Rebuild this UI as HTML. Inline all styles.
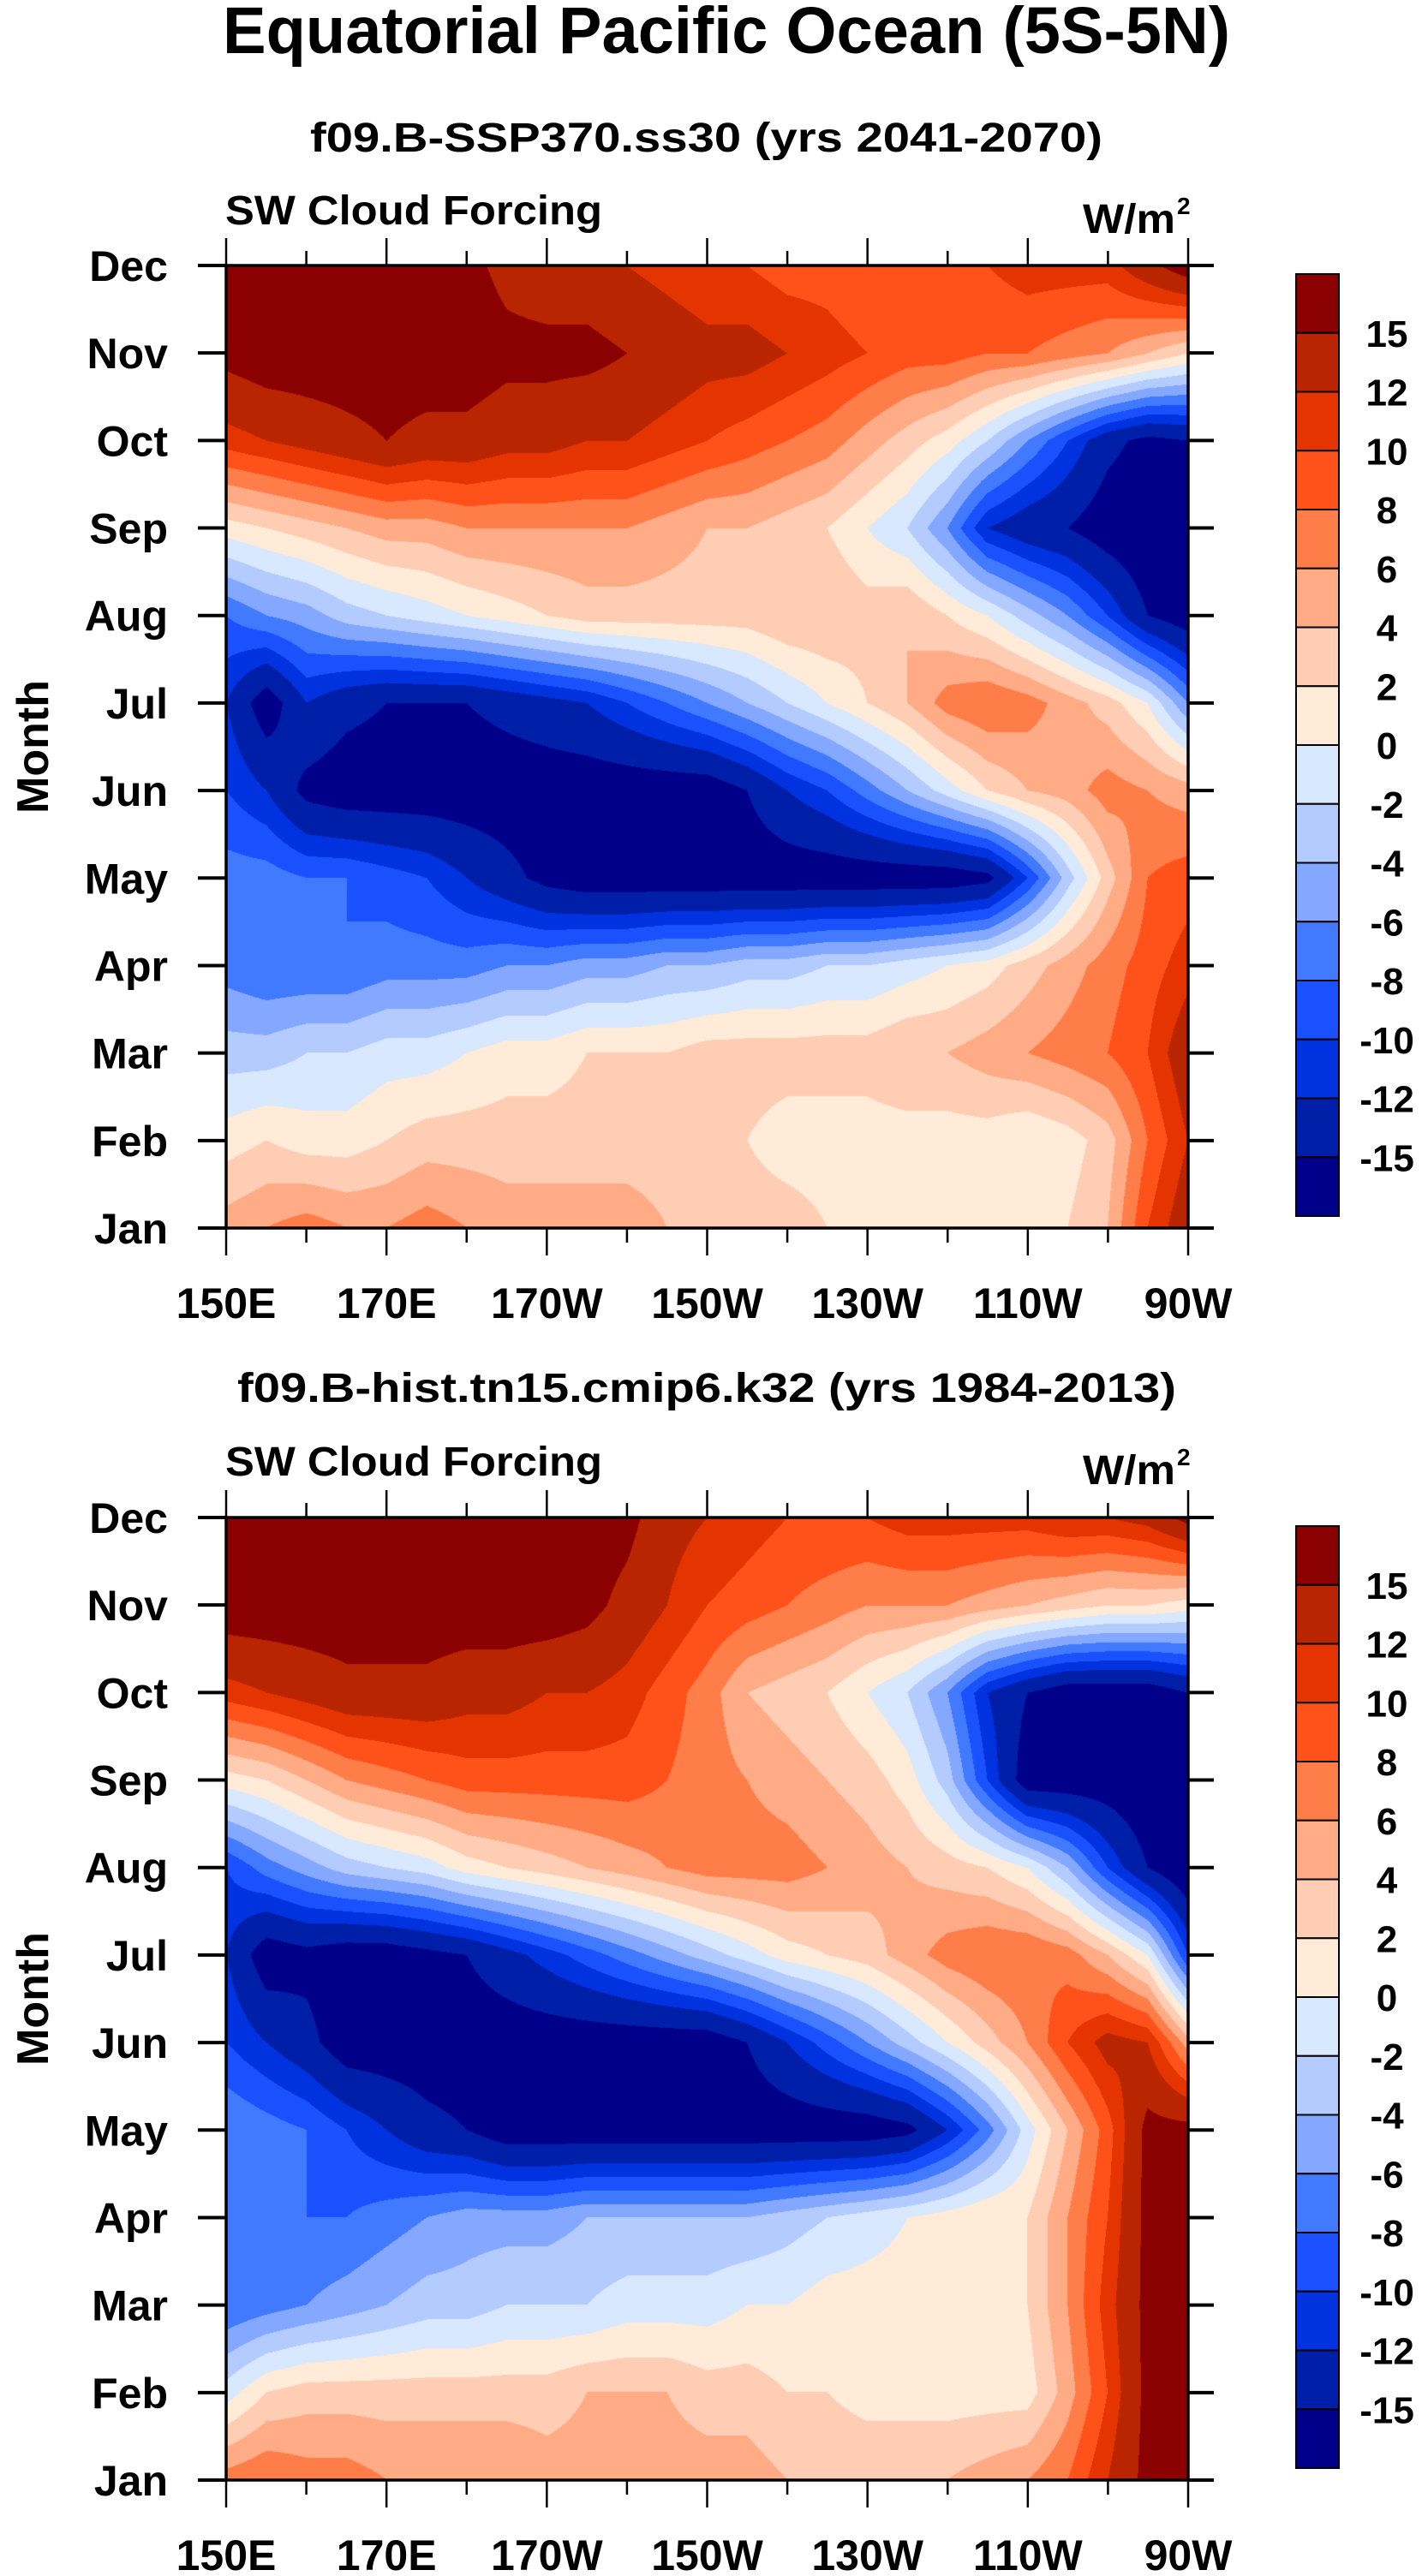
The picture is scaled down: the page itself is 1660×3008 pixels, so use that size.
<!DOCTYPE html>
<html><head><meta charset="utf-8">
<style>
html,body{margin:0;padding:0;background:#fff;}
#wrap{position:relative;width:1660px;height:3008px;overflow:hidden;background:#fff;}
canvas{position:absolute;}
svg{position:absolute;left:0;top:0;}
text{font-family:"Liberation Sans",sans-serif;font-weight:bold;fill:#000;}
</style></head>
<body>
<div id="wrap">
<canvas id="c1" width="1123" height="1124" style="left:264px;top:310px"></canvas>
<canvas id="c2" width="1123" height="1124" style="left:264px;top:1772px"></canvas>
<svg id="svg" width="1660" height="3008" xmlns="http://www.w3.org/2000/svg">
<text x="260" y="62" font-size="77" textLength="1176" lengthAdjust="spacingAndGlyphs">Equatorial Pacific Ocean (5S-5N)</text>
<text x="362" y="177" font-size="48" textLength="925" lengthAdjust="spacingAndGlyphs">f09.B-SSP370.ss30 (yrs 2041-2070)</text>
<text x="263" y="262" font-size="48" textLength="440" lengthAdjust="spacingAndGlyphs">SW Cloud Forcing</text>
<text x="1264" y="272" font-size="48" textLength="108" lengthAdjust="spacingAndGlyphs">W/m</text>
<text x="1374" y="250" font-size="28">2</text>
<text x="277" y="1637" font-size="48" textLength="1096" lengthAdjust="spacingAndGlyphs">f09.B-hist.tn15.cmip6.k32 (yrs 1984-2013)</text>
<text x="263" y="1723" font-size="48" textLength="440" lengthAdjust="spacingAndGlyphs">SW Cloud Forcing</text>
<text x="1264" y="1733" font-size="48" textLength="108" lengthAdjust="spacingAndGlyphs">W/m</text>
<text x="1374" y="1711" font-size="28">2</text>
<text font-size="52" transform="translate(56,872) rotate(-90)" text-anchor="middle">Month</text>
<text font-size="52" transform="translate(56,2334) rotate(-90)" text-anchor="middle">Month</text>
</svg>
</div>
<script>
// ---- data ----
const months = ["Jan","Feb","Mar","Apr","May","Jun","Jul","Aug","Sep","Oct","Nov","Dec"];
const lons = [150,155,160,165,170,175,180,185,190,195,200,205,210,215,220,225,230,235,240,245,250,255,260,265,270];
const lonTicks = [150,170,190,210,230,250,270];
const lonTickLabels = ["150E","170E","170W","150W","130W","110W","90W"];
const levels = [-15,-12,-10,-8,-6,-4,-2,0,2,4,6,8,10,12,15];
const levelLabels = ["15","12","10","8","6","4","2","0","-2","-4","-6","-8","-10","-12","-15"];
const colors = ["#00008a","#001fa8","#0032e0","#1b50ff","#4179ff","#84a8ff","#b3cbff","#d7e8ff","#ffebd8","#ffcdb3","#ffab85","#ff7d48","#ff521b","#e43500","#b92500","#8b0000"];
const ssp370 = [
[5,6,7,6,6,7,6,5,5,5,5,4,3,3,3,2,2,2,2,2,2,2,4,10,14],
[1,2,1,1,2,3,3,3,3,3,3,3,3,2,1,1,1,1,1,1,0,1,3,8,12],
[-3,-3,-2,-2,-1,-1,0,1,1,2,2,2,3,3,3,3,3,4,4,5,6,7,8,10,14],
[-7,-8,-8,-8,-7,-7,-7,-6,-6,-5,-5,-4,-4,-3,-3,-2,-2,-1,0,1,3,5,7,9,11],
[-7,-7,-8,-8,-9,-10,-12,-14,-16,-17,-17,-17,-17,-17,-17,-17,-17,-17,-17,-16,-10,-3,3,8,9],
[-10,-12,-16,-17,-17,-17,-17,-17,-17,-17,-17,-17,-17,-15,-12,-10,-7,-4,-1,2,4,5,7,6,5],
[-12,-17,-12,-14,-15,-15,-15,-14,-13,-12,-10,-8,-6,-4,-2,0,2,4,7,8,7,5,3,0,-6],
[-8,-6,-5,-3,-2,-1,0,1,2,3,3,3,3,3,4,4,3,4,2,0,-3,-6,-10,-15,-17],
[1,2,3,4,5,5,6,6,6,6,6,5,4,4,3,2,0,-2,-6,-12,-14,-15,-17,-18,-18],
[11,12,13,14,15,14,14,13,13,12,12,11,10,9,8,7,5,3,1,-2,-6,-10,-14,-16,-15],
[16,17,17,17,17,17,17,16,16,16,15,14,13,13,12,11,10,9,9,8,8,7,6,4,2],
[17,17,17,17,17,17,16,14,13,13,12,11,10,10,9,9,8,9,9,10,11,11,11,14,17]
];
const hist = [
[7,8,7,7,6,6,6,6,5,5,5,5,5,5,4,4,4,4,4,5,6,8,12,16,16],
[-1,2,3,3,3,3,3,3,3,4,4,4,3,3,2,2,1,1,1,1,1,5,10,16,16],
[-8,-7,-6,-5,-4,-3,-3,-2,-2,-2,-1,-1,-1,0,0,1,1,1,1,1,2,6,11,16,16],
[-8,-7,-8,-8,-7,-6,-5,-5,-5,-4,-4,-4,-4,-4,-3,-2,-1,0,1,2,2,6,10,16,16],
[-6,-7,-8,-10,-12,-14,-15,-17,-17,-17,-17,-17,-17,-17,-17,-17,-17,-16,-12,-7,-1,4,9,16,16],
[-10,-12,-14,-17,-17,-17,-17,-17,-17,-17,-17,-17,-17,-15,-12,-9,-6,-3,0,3,6,10,13,12,5],
[-12,-17,-16,-17,-17,-16,-15,-13,-11,-9,-7,-5,-3,-1,1,2,3,5,7,8,8,7,4,0,-10],
[-10,-7,-5,-3,-2,-1,1,2,3,4,5,6,7,7,7,6,5,4,3,2,0,-4,-10,-15,-18],
[1,2,4,6,7,8,9,9,9,9,9,8,7,6,5,4,3,1,-3,-10,-17,-17,-17,-18,-18],
[11,12,13,14,14,14,13,13,12,12,11,9,7,4,3,2,0,-2,-6,-12,-15,-17,-17,-17,-15],
[17,17,17,17,17,17,17,17,17,16,14,12,10,9,8,7,6,6,6,5,4,3,2,2,1],
[17,17,17,17,17,17,17,17,17,17,16,13,12,11,10,10,10,11,11,11,11,12,12,13,16]
];

// ---- layout ----
const PL=264, PR=1387, PW=PR-PL, PH=1124;
const panels=[{top:310,data:ssp370,canvas:'c1',id:'ssp370'},{top:1772,data:hist,canvas:'c2',id:'hist'}];
const xOf = lon => PL + (lon-lons[0])/(lons[lons.length-1]-lons[0])*PW;
const yOf = (top,m) => top + PH - m/(months.length-1)*PH;
function hexRGB(h){return [parseInt(h.substr(1,2),16),parseInt(h.substr(3,2),16),parseInt(h.substr(5,2),16)];}
const rgb = colors.map(hexRGB);
function colorIdx(v){let i=0;while(i<levels.length && v>=levels[i]) i++;return i;}

function drawField(p){
  const cv=document.getElementById(p.canvas), ctx=cv.getContext('2d');
  const W=cv.width,H=cv.height,img=ctx.createImageData(W,H),d=img.data;
  const nl=lons.length, nm=months.length, span=lons[nl-1]-lons[0];
  for(let py=0;py<H;py++){
    const mf=(H-1-py)/(H-1)*(nm-1);
    let m0=Math.floor(mf); if(m0>=nm-1)m0=nm-2; const tm=mf-m0;
    const r0=p.data[m0], r1=p.data[m0+1];
    for(let px=0;px<W;px++){
      const lon=lons[0]+px/(W-1)*span;
      let j=0; while(j<nl-2 && lons[j+1]<=lon) j++;
      const tl=(lon-lons[j])/(lons[j+1]-lons[j]);
      const v=(r0[j]*(1-tl)+r0[j+1]*tl)*(1-tm)+(r1[j]*(1-tl)+r1[j+1]*tl)*tm;
      const c=rgb[colorIdx(v)], k=(py*W+px)*4;
      d[k]=c[0];d[k+1]=c[1];d[k+2]=c[2];d[k+3]=255;
    }
  }
  ctx.putImageData(img,0,0);
}

const svg=document.getElementById('svg'), NS='http://www.w3.org/2000/svg';
function mk(tag,attrs,parent){const e=document.createElementNS(NS,tag);for(const k in attrs)e.setAttribute(k,attrs[k]);(parent||svg).appendChild(e);return e;}

panels.forEach(p=>{
  drawField(p);
  const g=mk('g',{});
  
  
  const top=p.top, bot=top+PH;
  for(let lon=lons[0];lon<=lons[lons.length-1];lon+=10){
    const major=lonTicks.includes(lon), len=major?32:17, x=xOf(lon);
    const t1=mk('line',{x1:x,x2:x,y1:top,y2:top-len,stroke:'#000','stroke-width':2.5},g);
    
    
    const t2=mk('line',{x1:x,x2:x,y1:bot,y2:bot+len,stroke:'#000','stroke-width':2.5},g);
    
    
  }
  lonTicks.forEach((lon,i)=>{
    const t=mk('text',{x:xOf(lon),y:bot+105,'font-size':50,'text-anchor':'middle'},g);
    t.textContent=lonTickLabels[i];
    
    
  });
  months.forEach((m,i)=>{
    const y=yOf(top,i);
    const l=mk('line',{x1:PL-33,x2:PL,y1:y,y2:y,stroke:'#000','stroke-width':4},g);
    
    
    const r=mk('line',{x1:PR,x2:PR+30,y1:y,y2:y,stroke:'#000','stroke-width':4},g);
    
    
    const t=mk('text',{x:196,y:y+18,'font-size':50,'text-anchor':'end'},g);
    t.textContent=m;
    
    
  });
  const fr=mk('rect',{x:PL,y:top,width:PW,height:PH,fill:'none',stroke:'#000','stroke-width':3.5},g);
  
  
  const cb=mk('g',{});
  
  
  const cbTop=top+10, cbH=1100, bx=1513, bw=50, n=colors.length, bh=cbH/n;
  for(let i=0;i<n;i++){
    const r=mk('rect',{x:bx,y:cbTop+i*bh,width:bw,height:bh,fill:colors[n-1-i],stroke:'#000','stroke-width':2},cb);
    
    
  }
  levelLabels.forEach((lab,i)=>{
    const t=mk('text',{x:1619,y:cbTop+(i+1)*bh+16,'font-size':44,'text-anchor':'middle'},cb);
    t.textContent=lab;
    
    
  });
});
</script>
</body></html>
